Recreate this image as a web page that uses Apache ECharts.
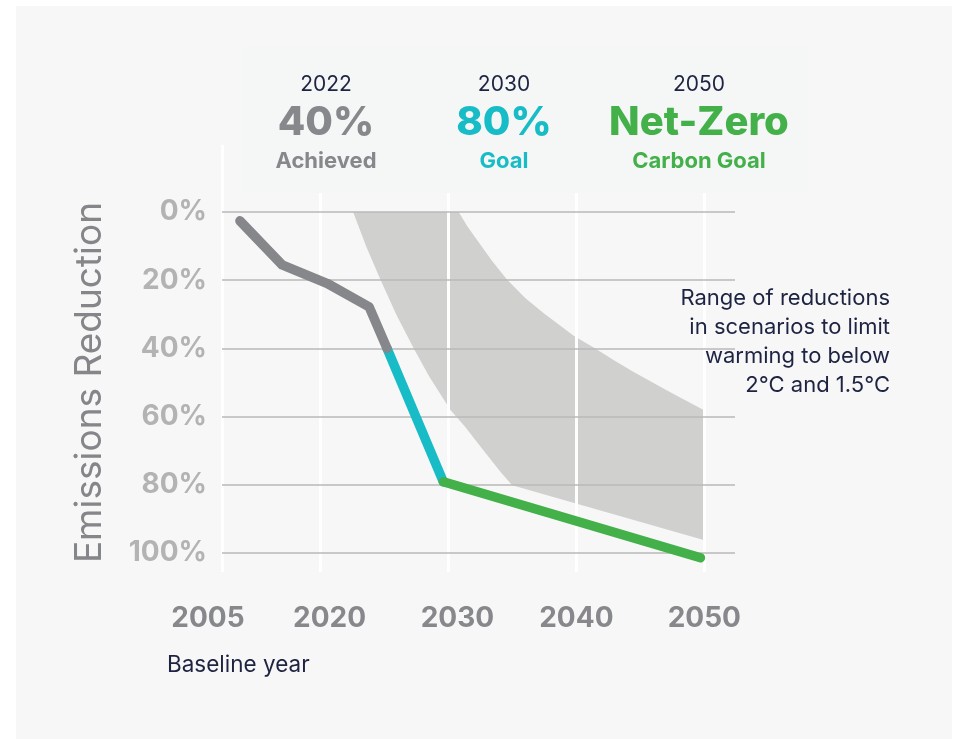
<!DOCTYPE html>
<html lang="en">
<head>
    <meta charset="UTF-8">
    <title>Emissions Reduction</title>
    <script src="https://cdn.jsdelivr.net/npm/echarts@6/dist/echarts.min.js"></script>
    <style>
        html, body {margin: 0; padding: 0; background: #fff;}
    </style>
</head>
<body>
<div id="main" style="width: 957px;height:739px;"></div>

<script>
    // x axis: year positions; the left edge stands for the 2005 baseline
    var xMin = 2012.3, xMax = 2052.4;
    var xTickPos = [2012.3, 2020, 2030, 2040, 2050];
    var xTickLabels = ['2005', '2020', '2030', '2040', '2050'];
    var yTicks = [0, 20, 40, 60, 80, 100];

    // achieved / goal path (years, % reduction)
    var grayYears = [2013.7, 2017.0, 2020.5, 2023.8, 2025.2];
    var grayVals = [2.6, 15.5, 20.9, 27.8, 40];
    var tealYears = [2025.2, 2029.6];
    var tealVals = [40, 79.1];
    var greenYears = [2029.6, 2049.7];
    var greenVals = [79.1, 101.4];

    // scenario range band: upper edge left->right, lower edge right->left
    var bandTopYears = [2022.55, 2030.8, 2031.5, 2032.24, 2033.4, 2034.59, 2036.0, 2037.45, 2039.79, 2041.48, 2043.0, 2044.48, 2047.2, 2049.95];
    var bandTopVals = [0, 0, 4.3, 8.2, 14.3, 19.9, 25.2, 29.7, 36.3, 40.0, 43.6, 46.9, 52.6, 58.1];
    var bandBotYears = [2049.95, 2034.98, 2034.06, 2032.5, 2031.3, 2030.16, 2028.52, 2027.29, 2025.94, 2024.69, 2023.59, 2022.55];
    var bandBotVals = [96.2, 80.1, 76.2, 68.8, 63.0, 58.1, 48.4, 40.0, 30.2, 19.9, 10.3, 0];

    // header
    var headYears = ['2022', '2030', '2050'];
    var headBig = ['40%', '80%', 'Net-Zero'];
    var headSub = ['Achieved', 'Goal', 'Carbon Goal'];
    var headColors = ['#87888c', '#17bcc6', '#43b04a'];

    var noteLines = ['Range of reductions', 'in scenarios to limit', 'warming to below', '2°C and 1.5°C'];

    var FONT = 'Inter, "Noto Sans", sans-serif';
    var NAVY = '#1d2341';

    function pairs(xs, ys) {
        return xs.map(function (x, i) {
            return [x, ys[i]];
        });
    }

    var headX = [326, 504, 699];
    var graphics = [
        {type: 'rect', shape: {x: 16, y: 6, width: 936, height: 733}, style: {fill: '#f7f7f7'}, z: -10},
        {type: 'rect', shape: {x: 242, y: 46, width: 566, height: 147}, style: {fill: '#f5f6f6'}, z: 50}
    ];
    headYears.forEach(function (t, i) {
        graphics.push({type: 'text', x: headX[i], y: 85, z: 60,
            style: {text: t, fill: NAVY, font: '400 21px ' + FONT, textAlign: 'center', textVerticalAlign: 'middle'}});
        graphics.push({type: 'text', x: headX[i], y: 123, z: 60,
            style: {text: headBig[i], fill: headColors[i], font: '800 40px ' + FONT, textAlign: 'center', textVerticalAlign: 'middle'}});
        graphics.push({type: 'text', x: headX[i], y: 161, z: 60,
            style: {text: headSub[i], fill: headColors[i], font: '700 22px ' + FONT, textAlign: 'center', textVerticalAlign: 'middle'}});
    });
    graphics.push({type: 'text', x: 890, y: 342, z: 60,
        style: {text: noteLines.join('\n'), fill: NAVY, font: '400 22px ' + FONT, lineHeight: 29,
            textAlign: 'right', textVerticalAlign: 'middle'}});
    graphics.push({type: 'text', x: 167, y: 665, z: 60,
        style: {text: 'Baseline year', fill: NAVY, font: '400 22.5px ' + FONT, textVerticalAlign: 'middle'}});

    var myChart = echarts.init(document.getElementById('main'));

    var lineBase = {
        type: 'line',
        xAxisIndex: 0,
        yAxisIndex: 0,
        showSymbol: false,
        symbol: 'none',
        clip: false,
        z: 20
    };

    var option = {
        backgroundColor: '#fff',
        animation: false,
        textStyle: {fontFamily: FONT},
        graphic: graphics,
        grid: [
            {left: 222, right: 222, top: 212, bottom: 186},
            {left: 222, right: 222, top: 145, bottom: 167}
        ],
        xAxis: [
            {
                type: 'value', gridIndex: 0, min: xMin, max: xMax, z: 5,
                axisLine: {show: false},
                axisTick: {show: false, customValues: xTickPos},
                splitLine: {show: false},
                axisLabel: {
                    customValues: xTickPos,
                    margin: 52,
                    color: '#87888c',
                    fontSize: 28,
                    fontWeight: 'bold',
                    formatter: function (v) {
                        var i = xTickPos.indexOf(v);
                        if (i === 0) return '{b|' + xTickLabels[i] + '}';
                        if (i === 1 || i === 2) return '{r|' + xTickLabels[i] + '}';
                        return i >= 0 ? xTickLabels[i] : '';
                    },
                    rich: {
                        b: {color: '#87888c', fontSize: 28, fontWeight: 'bold', padding: [0, 28, 0, 0]},
                        r: {color: '#87888c', fontSize: 28, fontWeight: 'bold', padding: [0, 0, 0, 18]}
                    }
                }
            },
            {
                type: 'value', gridIndex: 1, min: xMin, max: xMax, z: 2,
                axisLine: {show: false},
                axisTick: {show: false, customValues: xTickPos},
                axisLabel: {show: false},
                splitLine: {show: true, lineStyle: {color: '#ffffff', width: 3}}
            }
        ],
        yAxis: [
            {
                type: 'value', gridIndex: 0, inverse: true, min: 0, max: 100, interval: 20, z: 3,
                axisLine: {show: false},
                axisTick: {show: false},
                axisLabel: {
                    formatter: '{value}%',
                    margin: 15,
                    color: '#b3b3b3',
                    fontSize: 28,
                    fontWeight: 'bold'
                },
                splitLine: {lineStyle: {color: '#b9b9b9', width: 1.5}},
                name: 'Emissions Reduction',
                nameLocation: 'middle',
                nameRotate: 90,
                nameGap: 114,
                nameTextStyle: {color: '#858689', fontSize: 37, fontFamily: FONT}
            },
            {
                type: 'value', gridIndex: 1, min: 0, max: 1, show: false,
                splitLine: {show: false}
            }
        ],
        series: [
            {
                type: 'custom',
                xAxisIndex: 0,
                yAxisIndex: 0,
                z: 1,
                clip: false,
                data: [0],
                renderItem: function (params, api) {
                    var pts = pairs(bandTopYears, bandTopVals).concat(pairs(bandBotYears, bandBotVals));
                    return {
                        type: 'polygon',
                        shape: {points: pts.map(function (p) { return api.coord(p); })},
                        style: {fill: '#d0d1ce'}
                    };
                }
            },
            Object.assign({}, lineBase, {
                data: pairs(tealYears, tealVals),
                lineStyle: {color: '#17bcc6', width: 9.5, cap: 'round', join: 'round'}
            }),
            Object.assign({}, lineBase, {
                data: pairs(grayYears, grayVals),
                lineStyle: {color: '#86878b', width: 9.5, cap: 'round', join: 'round'}
            }),
            Object.assign({}, lineBase, {
                data: pairs(greenYears, greenVals),
                lineStyle: {color: '#43b04a', width: 9.5, cap: 'round', join: 'round'}
            })
        ]
    };

    myChart.setOption(option);
</script>
</body>
</html>
